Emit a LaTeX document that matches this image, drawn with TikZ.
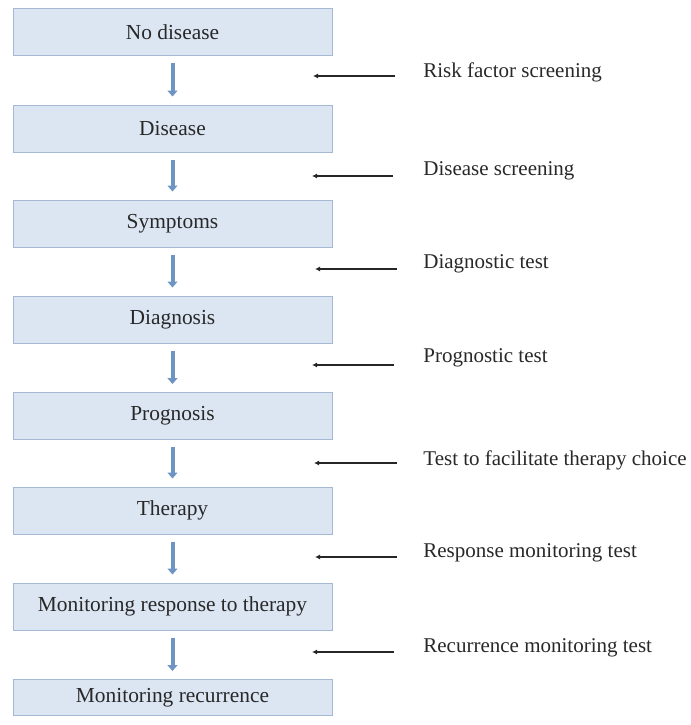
\documentclass[tikz,border=0pt]{standalone}
\usepackage{fontspec}
\setmainfont{Liberation Serif}
\usetikzlibrary{arrows.meta}
\definecolor{boxfill}{RGB}{220,230,243}
\definecolor{boxline}{RGB}{165,185,212}
\definecolor{flowblue}{RGB}{110,148,196}
\definecolor{textgray}{RGB}{40,40,40}
\begin{document}
\begin{tikzpicture}[x=0.5pt,y=-0.5pt,
    stage/.style={draw=boxline,fill=boxfill,line width=0.5pt,minimum width=159.5pt,minimum height=23.5pt,inner sep=0pt,text=textgray,font=\fontsize{10.7}{13}\selectfont},
    testlabel/.style={anchor=west,inner sep=1pt,text=textgray,font=\fontsize{10.5}{13}\selectfont},
    flow/.style={draw=flowblue,line width=2pt,-{Triangle[width=5pt,length=3pt]},shorten <=3.5pt,shorten >=4pt},
    testarrow/.style={draw=black!85,line width=0.7pt,-{Latex[length=2.5pt,width=2.5pt]}}]
    \useasboundingbox (0,0) rectangle (691,725);
    \node[stage] (none) at (172.5,32) {No disease};
    \node[stage] (dis) at (172.5,128.5) {Disease};
    \node[stage] (sym) at (172.5,223.5) {Symptoms};
    \node[stage] (diag) at (172.5,319.5) {Diagnosis};
    \node[stage] (prog) at (172.5,416) {Prognosis};
    \node[stage] (ther) at (172.5,510.5) {Therapy};
    \node[stage] (mresp) at (172.5,606.5) {Monitoring response to therapy};
    \node[stage,minimum height=18pt] (mrec) at (172.5,697.5) {Monitoring recurrence};
    \draw[flow] (none.south) -- (dis.north);
    \draw[flow] (dis.south) -- (sym.north);
    \draw[flow] (sym.south) -- (diag.north);
    \draw[flow] (diag.south) -- (prog.north);
    \draw[flow] (prog.south) -- (ther.north);
    \draw[flow] (ther.south) -- (mresp.north);
    \draw[flow] (mresp.south) -- (mrec.north);
    % tests on the right
    \node[testlabel] (rf) at (421,72) {Risk factor screening};
    \node[testlabel] (ds) at (421,171) {Disease screening};
    \node[testlabel] (dt) at (421,264) {Diagnostic test};
    \node[testlabel] (pt) at (421,358) {Prognostic test};
    \node[testlabel] (tc) at (421,460) {Test to facilitate therapy choice};
    \node[testlabel] (rm) at (421,553) {Response monitoring test};
    \node[testlabel] (rc) at (421,648) {Recurrence monitoring test};
    \coordinate (rfs) at (395,76);  \coordinate (rfe) at (313,76);
    \coordinate (dss) at (393,176); \coordinate (dse) at (312,176);
    \coordinate (dts) at (397,269); \coordinate (dte) at (315,269);
    \coordinate (pts) at (394,365); \coordinate (pte) at (312,365);
    \coordinate (tcs) at (397,463); \coordinate (tce) at (314,463);
    \coordinate (rms) at (397,557); \coordinate (rme) at (315,557);
    \coordinate (rcs) at (394,652); \coordinate (rce) at (312,652);
    \draw[testarrow] (rfs) -- (rfe);
    \draw[testarrow] (dss) -- (dse);
    \draw[testarrow] (dts) -- (dte);
    \draw[testarrow] (pts) -- (pte);
    \draw[testarrow] (tcs) -- (tce);
    \draw[testarrow] (rms) -- (rme);
    \draw[testarrow] (rcs) -- (rce);
\end{tikzpicture}
\end{document}
